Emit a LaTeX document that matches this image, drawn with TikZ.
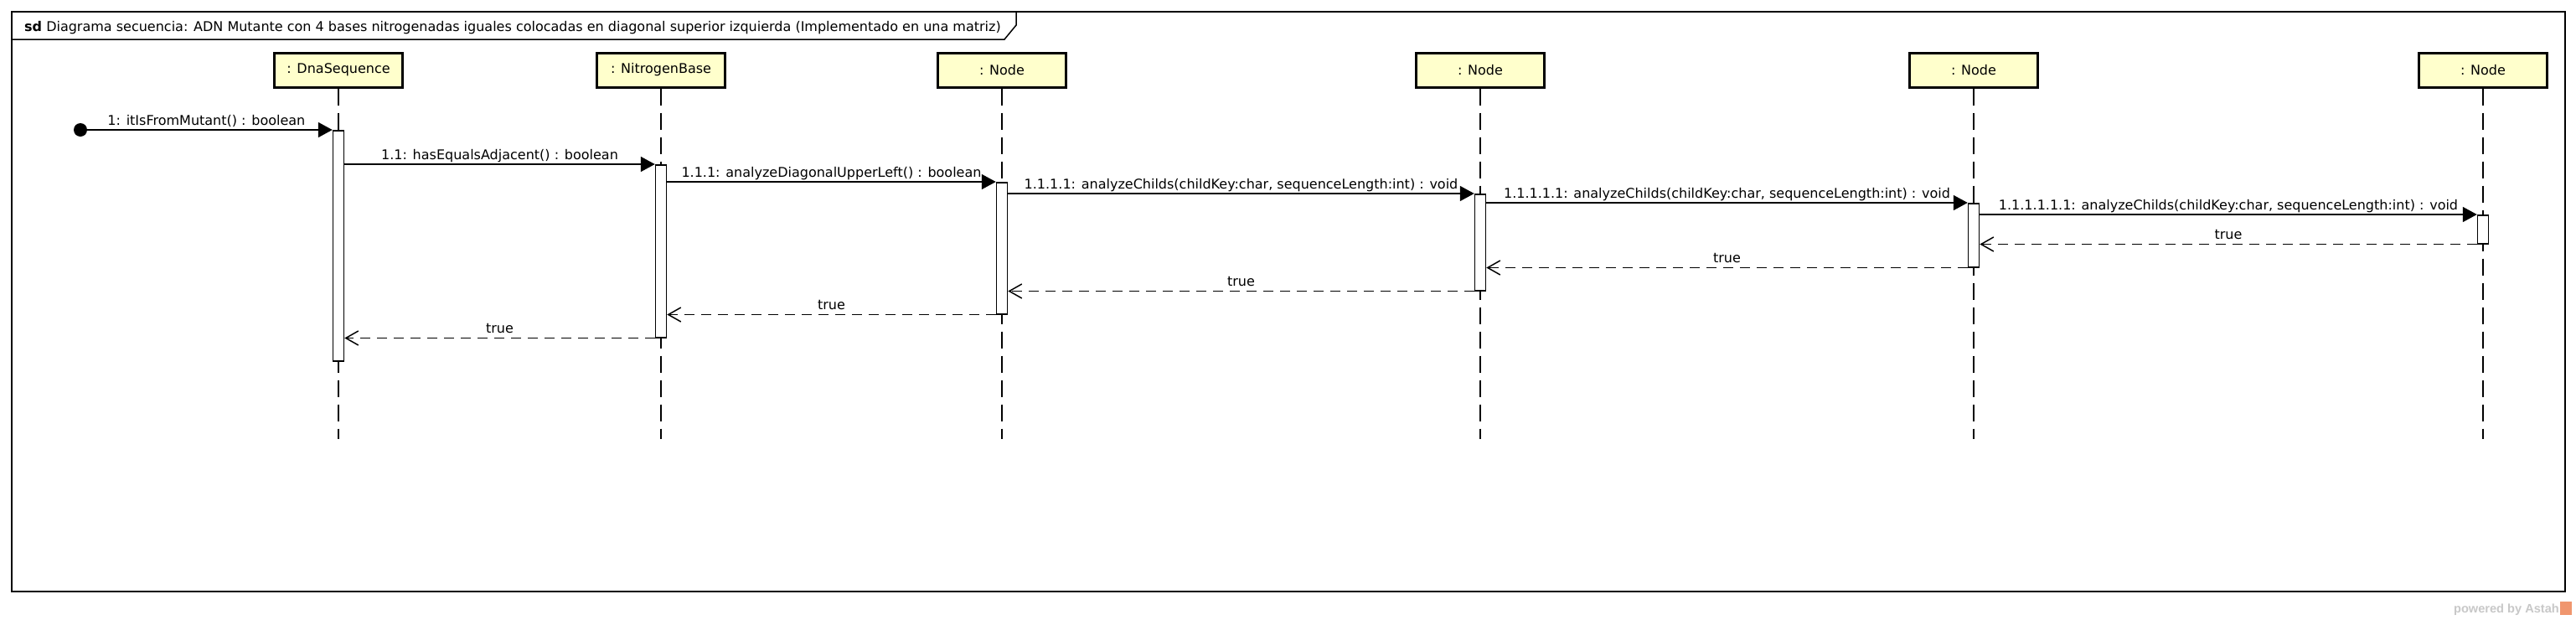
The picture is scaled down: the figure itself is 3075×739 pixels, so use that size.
\documentclass[tikz,border=0pt]{standalone}
\usepackage{fontspec}
\setmainfont{DejaVu Sans}
\newfontfamily\astahfont{Liberation Sans}
\usetikzlibrary{arrows.meta}
\definecolor{headfill}{RGB}{255,255,204}
\definecolor{astahgray}{RGB}{200,200,200}
\definecolor{astahorange}{RGB}{240,150,110}
\newcommand{\fs}{\fontsize{16}{19}\selectfont}
\begin{document}
\begin{tikzpicture}[x=1pt,y=-1pt,
  head/.style={draw, line width=3pt, fill=headfill, minimum width=153pt, minimum height=41pt, inner sep=0pt, font=\fs},
  lifeline/.style={line width=1.2pt, dash pattern=on 20pt off 9pt},
  act/.style={draw, line width=1.5pt, fill=white, minimum width=13pt, inner sep=0pt, anchor=north},
  msg/.style={line width=1.7pt, -{Triangle[length=17pt,width=18pt]}},
  ret/.style={line width=1.8pt, dash pattern=on 12pt off 8pt, -{Straight Barb[length=15pt,width=17pt,line width=1.5pt]}},
  lbl/.style={font=\fs, anchor=base, yshift=6pt, inner sep=0pt}]
\useasboundingbox (0,0) rectangle (3075,739);
\fill[white] (0,0) rectangle (3075,739);

% frame
\draw[line width=2pt] (14,14) rectangle (3062,706);
\draw[line width=1.5pt] (14,47) -- (1199,47) -- (1213,30) -- (1213,14);
\node[anchor=base west, font=\fs, inner sep=0pt] (title) at (29,37) {\textbf{sd} Diagrama secuencia: ADN Mutante con 4 bases nitrogenadas iguales colocadas en diagonal superior izquierda (Implementado en una matriz)};

% lifeline heads
\node[head] (dna) at (404,83.5) {: DnaSequence};
\node[head] (nb) at (789,83.5) {: NitrogenBase};
\node[head] (n1) at (1196,83.5) {: Node};
\node[head] (n2) at (1767,83.5) {: Node};
\node[head] (n3) at (2356,83.5) {: Node};
\node[head] (n4) at (2964,83.5) {: Node};

% lifelines
\coordinate (dnaE) at (404,524);
\coordinate (nbE) at (789,524);
\coordinate (n1E) at (1196,524);
\coordinate (n2E) at (1767,524);
\coordinate (n3E) at (2356,524);
\coordinate (n4E) at (2964,524);
\draw[lifeline] (dna.south) -- (dnaE);
\draw[lifeline] (nb.south) -- (nbE);
\draw[lifeline] (n1.south) -- (n1E);
\draw[lifeline] (n2.south) -- (n2E);
\draw[lifeline] (n3.south) -- (n3E);
\draw[lifeline] (n4.south) -- (n4E);

% activations
\node[act, minimum height=275pt] (a1) at (404,155) {};
\node[act, minimum height=206pt] (a2) at (789,196) {};
\node[act, minimum height=157pt] (a3) at (1196,217) {};
\node[act, minimum height=115pt] (a4) at (1767,231) {};
\node[act, minimum height=76pt] (a5) at (2356,242) {};
\node[act, minimum height=34pt] (a6) at (2964,256) {};

% start
\node[circle, fill=black, inner sep=0pt, minimum size=16pt] (start) at (96,155) {};

% messages
\draw[msg] (start.center) -- (a1.north west) node[lbl, midway] {1: itIsFromMutant() : boolean};
\draw[msg] (a1.east |- a2.north) -- (a2.north west) node[lbl, midway] {1.1: hasEqualsAdjacent() : boolean};
\draw[msg] (a2.east |- a3.north) -- (a3.north west) node[lbl, midway] {1.1.1: analyzeDiagonalUpperLeft() : boolean};
\draw[msg] (a3.east |- a4.north) -- (a4.north west) node[lbl, midway] {1.1.1.1: analyzeChilds(childKey:char, sequenceLength:int) : void};
\draw[msg] (a4.east |- a5.north) -- (a5.north west) node[lbl, midway] {1.1.1.1.1: analyzeChilds(childKey:char, sequenceLength:int) : void};
\draw[msg] (a5.east |- a6.north) -- (a6.north west) node[lbl, midway] {1.1.1.1.1.1: analyzeChilds(childKey:char, sequenceLength:int) : void};

% returns
\draw[ret] (a6.south west) -- (a5.east |- a6.south) node[lbl, midway] {true};
\draw[ret] (a5.south west) -- (a4.east |- a5.south) node[lbl, midway] {true};
\draw[ret] (a4.south west) -- (a3.east |- a4.south) node[lbl, midway] {true};
\draw[ret] (a3.south west) -- (a2.east |- a3.south) node[lbl, midway] {true};
\draw[ret] (a2.south west) -- (a1.east |- a2.south) node[lbl, midway] {true};

% footer
\node[anchor=base east, inner sep=0pt, text=astahgray, font={\astahfont\bfseries\fontsize{14.6}{17}\selectfont}] (powered) at (3055,731) {powered by Astah};
\node[fill=astahorange, inner sep=0pt, minimum width=14pt, minimum height=16pt, anchor=west] (logo) at (3056,726) {};
\end{tikzpicture}
\end{document}
